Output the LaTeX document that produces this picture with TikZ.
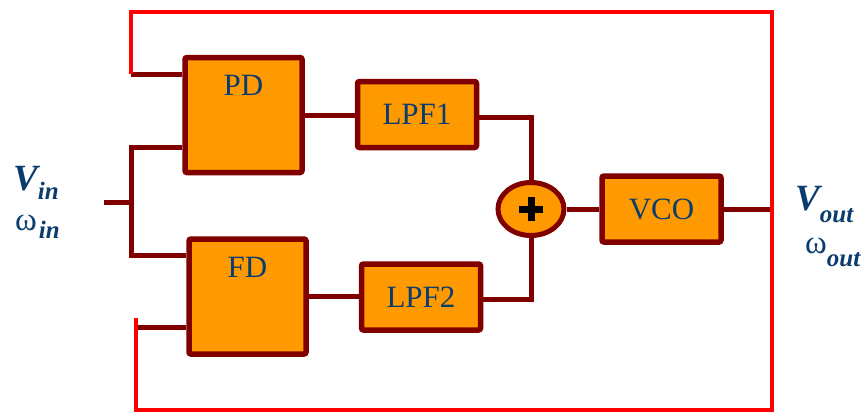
\documentclass[tikz,border=0pt]{standalone}
\usepackage{fontspec}
\setmainfont{Liberation Serif}
\usepackage{tikz}
\usetikzlibrary{shapes.geometric, positioning, calc}
\definecolor{boxorange}{HTML}{FF9900}
\definecolor{wirered}{HTML}{800000}
\definecolor{loopred}{HTML}{FF0000}
\definecolor{txtblue}{HTML}{0B3C6E}
\newcommand{\blkfont}{\fontsize{31}{31}\selectfont}
\newcommand{\sigfont}{\fontsize{37}{37}\selectfont}
\newcommand{\subfont}{\fontsize{25}{25}\selectfont\bfseries\itshape}

\begin{document}
\begin{tikzpicture}[x=1pt, y=-1pt,
  blk/.style={draw=wirered, line width=5.5pt, fill=boxorange, rounded corners=2pt, text=txtblue, font=\blkfont},
  bigblk/.style={blk, minimum width=117pt, minimum height=115pt,
    label={[anchor=center, yshift=-31pt, text=txtblue, font=\blkfont]north:#1}},
  smallblk/.style={blk, minimum width=119pt, minimum height=66pt},
  wire/.style={draw=wirered, line width=5pt},
  loop/.style={draw=loopred, line width=4.5pt},
  sig/.style={text=txtblue, inner sep=0pt, anchor=base west}
]
  \useasboundingbox (0,0) rectangle (864,413);

  \node[bigblk=PD] (pd) at (243.5,115) {};
  \node[bigblk=FD] (fd) at (247.5,296.5) {};
  \node[smallblk] (lpf1) at (417,114.5) {LPF1};
  \node[smallblk] (lpf2) at (421,297) {LPF2};
  \node[smallblk] (vco) at (661.5,209) {VCO};
  \node[ellipse, draw=wirered, line width=5pt, fill=boxorange, minimum width=66pt, minimum height=53pt, inner sep=0pt] (sum) at (531,209) {};
  \draw[line width=7pt] ([xshift=-12pt]sum.center) -- ([xshift=12pt]sum.center);
  \draw[line width=7pt] ([yshift=-12pt]sum.center) -- ([yshift=12pt]sum.center);

  \coordinate (in) at (104,202);
  \coordinate (split) at (131,202);
  \coordinate (out) at (772,209);
  \coordinate (fbtop) at (131,74);
  \coordinate (fbbot) at (136,327);

  % input branches
  \draw[wire] (in) -- (split);
  \draw[wire] ([yshift=-32pt]pd.west) -| (split) |- ([yshift=41.5pt]fd.west);

  % forward path
  \draw[wire] (pd.east) -- (pd.east -| lpf1.west);
  \draw[wire] (fd.east) -- (fd.east -| lpf2.west);
  \draw[wire] ([yshift=-2.5pt]lpf1.east) -| (sum.north);
  \draw[wire] ([yshift=-2pt]lpf2.east) -| (sum.south);
  \draw[wire] (sum.east) -- (vco.west);
  \draw[wire] (vco.east) -- (out);

  % feedback loop
  \draw[wire] (fbtop) -- (fbtop -| pd.west);
  \draw[wire] (fbbot) -- (fbbot -| fd.west);
  \draw[loop] (fbtop) -- ++(0,-62) -| (out) -- ++(0,201) -| ([yshift=9pt]fbbot);

  \node[sig] (vin) at (13,190) {\sigfont\bfseries\itshape V\raisebox{-9pt}{\subfont in}};
  \node[sig] (win) at (15,230) {\fontsize{33}{33}\selectfont ω\hspace{2pt}\raisebox{-8pt}{\subfont in}};
  \node[sig] (vout) at (795,210) {\sigfont\bfseries\itshape V\raisebox{-12pt}{\subfont out}};
  \node[sig] (wout) at (805,253) {\fontsize{33}{33}\selectfont ω\raisebox{-13pt}{\subfont out}};
\end{tikzpicture}
\end{document}
